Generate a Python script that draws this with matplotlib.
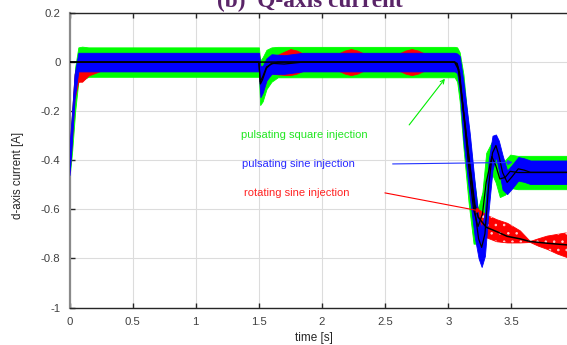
import numpy as np
import matplotlib
matplotlib.use("Agg")
import matplotlib.pyplot as plt

# ---------------- data ----------------
# pulsating square injection (green band): time, centre, half-width
sq_t = [0, 0.02, 0.045, 0.07, 0.1, 0.15, 1.5, 1.51, 1.53, 1.56, 1.6, 1.65,
        3.05, 3.07, 3.09, 3.12, 3.16, 3.20, 3.235, 3.27, 3.30, 3.345, 3.375,
        3.408, 3.45, 3.49, 3.55, 3.94]
sq_c = [-0.40, -0.29, -0.11, -0.01, -0.005, 0.0, 0.0, -0.085, -0.07, -0.03, -0.01, 0.0,
        0.0, -0.01, -0.06, -0.20, -0.42, -0.60, -0.67, -0.62, -0.49, -0.39, -0.42,
        -0.48, -0.47, -0.445, -0.45, -0.45]
sq_hw = [0.07, 0.08, 0.09, 0.07, 0.068, 0.06, 0.06, 0.09, 0.09, 0.08, 0.07, 0.062,
         0.062, 0.07, 0.10, 0.15, 0.15, 0.14, 0.07, 0.09, 0.12, 0.065, 0.07,
         0.07, 0.07, 0.068, 0.068, 0.068]
sq_est = [0.0, 0.0, 0.0, 0.0, 0.0, 0.0, 0.0, -0.08, -0.06, -0.02, -0.008, 0.0,
          0.0, -0.01, -0.06, -0.20, -0.42, -0.60, -0.67, -0.62, -0.49, -0.385, -0.42,
          -0.476, -0.47, -0.445, -0.45, -0.45]

# pulsating sine injection (blue band)
ps_t = [0, 0.015, 0.04, 0.07, 1.5, 1.512, 1.53, 1.56, 1.6, 1.7, 1.85,
        3.05, 3.07, 3.09, 3.12, 3.17, 3.21, 3.24, 3.264, 3.29, 3.32, 3.35, 3.377,
        3.40, 3.43, 3.466, 3.50, 3.554, 3.60, 3.65, 3.94]
ps_c = [-0.40, -0.30, -0.10, 0.0, 0.0, -0.08, -0.07, -0.03, -0.008, -0.01, 0.0,
        0.0, -0.005, -0.045, -0.20, -0.42, -0.605, -0.72, -0.755, -0.70, -0.50, -0.37, -0.34,
        -0.38, -0.45, -0.49, -0.47, -0.435, -0.44, -0.449, -0.449]
ps_hw = [0.06, 0.06, 0.05, 0.038, 0.038, 0.063, 0.055, 0.045, 0.04, 0.038, 0.038,
         0.038, 0.04, 0.07, 0.12, 0.13, 0.11, 0.08, 0.08, 0.09, 0.10, 0.07, 0.045,
         0.06, 0.07, 0.048, 0.048, 0.048, 0.048, 0.048, 0.048]
ps_est = [0.0, 0.0, 0.0, 0.0, 0.0, -0.089, -0.07, -0.025, -0.005, -0.008, 0.0,
          0.0, -0.005, -0.045, -0.20, -0.42, -0.605, -0.72, -0.755, -0.70, -0.50, -0.37, -0.34,
          -0.38, -0.45, -0.49, -0.47, -0.435, -0.44, -0.449, -0.449]

# rotating sine injection (red band), steady / drop part
rs_t = [0, 0.015, 0.04, 0.07, 0.1, 0.15, 0.25, 1.5, 1.512, 1.53, 1.56, 1.6, 1.65,
        1.7, 1.75, 1.8, 1.85, 2.13, 2.18, 2.23, 2.28, 2.33, 2.61, 2.66, 2.71, 2.76,
        2.81, 3.05, 3.07, 3.09, 3.12, 3.17, 3.21, 3.237]
rs_c = [-0.40, -0.30, -0.10, -0.035, -0.03, -0.015, 0.0, 0.0, -0.08, -0.07, -0.03, -0.01, -0.01,
        -0.005, 0.0, 0.0, 0.0, 0.0, 0.0, 0.0, 0.0, 0.0, 0.0, 0.0, 0.0, 0.0,
        0.0, 0.0, -0.005, -0.045, -0.20, -0.42, -0.59, -0.632]
rs_hw = [0.05, 0.05, 0.05, 0.045, 0.05, 0.04, 0.035, 0.035, 0.05, 0.05, 0.04, 0.035, 0.04,
         0.047, 0.053, 0.047, 0.035, 0.035, 0.047, 0.053, 0.047, 0.035, 0.035, 0.047, 0.053, 0.047,
         0.035, 0.035, 0.035, 0.035, 0.04, 0.04, 0.035, 0.03]
# rotating sine injection, beating band after the step (upper / lower edge)
rb_t = [3.205, 3.237, 3.30, 3.38, 3.466, 3.567, 3.646, 3.71, 3.78, 3.86, 3.94]
rb_up = [-0.59, -0.60, -0.621, -0.64, -0.655, -0.686, -0.729, -0.718, -0.707, -0.70, -0.693]
rb_lo = [-0.61, -0.66, -0.714, -0.73, -0.735, -0.735, -0.733, -0.748, -0.761, -0.78, -0.795]
rs_est_t = [0, 3.05, 3.08, 3.12, 3.17, 3.21, 3.237, 3.30, 3.38, 3.466, 3.567, 3.646, 3.78, 3.94]
rs_est = [0.0, 0.0, -0.03, -0.20, -0.42, -0.58, -0.632, -0.673, -0.69, -0.71, -0.72, -0.731, -0.738, -0.745]

x_ticks = [0, 0.5, 1, 1.5, 2, 2.5, 3, 3.5]
x_tick_labels = ["0", "0.5", "1", "1.5", "2", "2.5", "3", "3.5"]
y_ticks = [-1, -0.8, -0.6, -0.4, -0.2, 0, 0.2]
y_tick_labels = ["-1", "-0.8", "-0.6", "-0.4", "-0.2", "0", "0.2"]

labels = ["pulsating square injection", "pulsating sine injection", "rotating sine injection"]
label_pos = [(1.356, -0.297), (1.368, -0.415), (1.384, -0.532)]
arrow_tail = [(2.690, -0.256), (2.559, -0.415), (2.498, -0.533)]
arrow_tip = [(2.973, -0.068), (3.511, -0.409), (3.264, -0.608)]

# ---------------- plotting ----------------
W, H = 567, 345
fig = plt.figure(figsize=(W / 100, H / 100), dpi=100)
left_px, right_px, top_px, bot_px = 69.5, 567, 13, 307.5
ax = fig.add_axes([left_px / W, (H - bot_px) / H, (right_px - left_px) / W, (bot_px - top_px) / H])

GREEN, BLUE, RED = "#00ff00", "#0000ff", "#ff0000"
plt.rcParams["hatch.linewidth"] = 0.6

def band(t, c, hw, color, z):
    t = np.asarray(t); c = np.asarray(c); hw = np.asarray(hw)
    ax.fill_between(t, c - hw, c + hw, color=color, lw=0.6, zorder=z)

band(sq_t, sq_c, sq_hw, GREEN, 2)
band(rs_t, rs_c, rs_hw, RED, 3)
ax.fill_between(rb_t, rb_lo, rb_up, facecolor=RED, edgecolor=RED, lw=0.6, zorder=3)
ax.fill_between(rb_t, rb_lo, rb_up, facecolor="none", edgecolor="#ffd0d0", hatch="..",
                lw=0, zorder=3.1)
band(ps_t, ps_c, ps_hw, BLUE, 4)

ax.plot(sq_t, sq_est, color="black", lw=0.9, zorder=5)
ax.plot(ps_t, ps_est, color="black", lw=0.9, zorder=5)
ax.plot(rs_est_t, rs_est, color="black", lw=1.1, zorder=5)

ax.set_xlim(0, 3.94)
ax.set_ylim(-1, 0.2)
ax.set_xticks(x_ticks)
ax.set_xticklabels(x_tick_labels)
ax.set_yticks(y_ticks)
ax.set_yticklabels(y_tick_labels)

font = "Liberation Sans"
for lab in ax.get_xticklabels() + ax.get_yticklabels():
    lab.set_fontfamily(font)
ax.tick_params(axis="x", direction="in", top=True, length=3.5, width=1, color="#262626",
               labelsize=8.2, labelcolor="#404040", pad=6.5)
ax.tick_params(axis="y", direction="in", right=False, length=3.5, width=1, color="#262626",
               labelsize=8.2, labelcolor="#404040", pad=6.5)

ax.grid(True, color="#dcdcdc", lw=0.8)
ax.set_axisbelow(True)
for s in ["top", "bottom"]:
    ax.spines[s].set_color("#262626")
    ax.spines[s].set_linewidth(1.0)
ax.spines["left"].set_color("#8a8a8a")
ax.spines["left"].set_linewidth(1.6)
ax.spines["right"].set_visible(False)

colors_txt = ["#22e622", "#2a2aff", "#ff2222"]
colors_arr = ["#00ee00", "#2233ff", "#ff0000"]
styles = ["->", "-|>", "-|>"]
for lab, pos, tail, tip, ct, ca, st in zip(labels, label_pos, arrow_tail, arrow_tip,
                                           colors_txt, colors_arr, styles):
    ax.text(pos[0], pos[1], lab, color=ct, fontsize=8, family=font, ha="left", va="center",
            zorder=7)
    ax.annotate("", xy=tip, xytext=tail,
                arrowprops=dict(arrowstyle=st, color=ca, lw=0.8, mutation_scale=7,
                                shrinkA=0, shrinkB=0), zorder=7)

fig.text(18 / W, 1 - 175 / H, "d-axis current [A]", rotation=90, ha="center", va="center",
         fontsize=8.3, family=font, color="#262626")
fig.text(314 / W, 1 - 338 / H, "time [s]", ha="center", va="center",
         fontsize=8.5, family=font, color="#262626")
fig.text(310 / W, 1 - 7 / H, "(b)  Q-axis current", ha="center", va="baseline",
         fontsize=16.8, family="Liberation Serif", fontweight="bold", color="#5a2468")

fig.savefig("out.png", dpi=100)
